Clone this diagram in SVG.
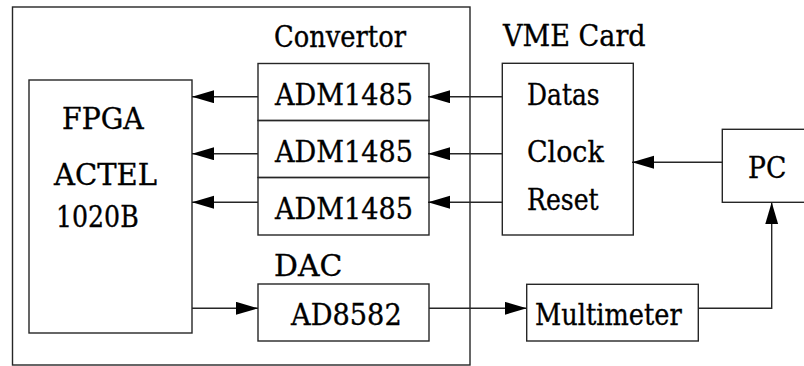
<svg xmlns="http://www.w3.org/2000/svg" width="804" height="366" viewBox="0 0 804 366">
<defs>
<style>
.box{fill:none;stroke:#262626;stroke-width:1.4}
.ln{fill:none;stroke:#262626;stroke-width:1.4}
text{font-family:"DejaVu Serif",serif;font-size:29px;fill:#000;stroke:#000;stroke-width:0.35}
</style>
<marker id="ah" markerUnits="userSpaceOnUse" markerWidth="24" markerHeight="14" refX="22" refY="6.5" orient="auto">
<path d="M0,0 L22,6.5 L0,13 Z" fill="#000"/>
</marker>
</defs>
<rect width="804" height="366" fill="#fff"/>
<g id="outer"><rect class="box" x="12.5" y="7" width="457.5" height="358"/></g>
<g id="fpga">
<rect class="box" x="29" y="80" width="163" height="253"/>
<text x="62" y="129" textLength="81.7" lengthAdjust="spacingAndGlyphs">FPGA</text>
<text x="54" y="185" textLength="103" lengthAdjust="spacingAndGlyphs">ACTEL</text>
<text x="56" y="227" textLength="82.7" lengthAdjust="spacingAndGlyphs">1020B</text>
</g>
<g id="convertor">
<text x="274" y="47" textLength="132" lengthAdjust="spacingAndGlyphs">Convertor</text>
<rect class="box" x="258" y="63.5" width="171" height="57"/>
<text x="275" y="105" textLength="138" lengthAdjust="spacingAndGlyphs">ADM1485</text>
<rect class="box" x="258" y="120.5" width="171" height="57"/>
<text x="275" y="162" textLength="138" lengthAdjust="spacingAndGlyphs">ADM1485</text>
<rect class="box" x="258" y="177.5" width="171" height="57.5"/>
<text x="275" y="218.5" textLength="138" lengthAdjust="spacingAndGlyphs">ADM1485</text>
</g>
<g id="dac">
<text x="274" y="276" textLength="68.3" lengthAdjust="spacingAndGlyphs">DAC</text>
<rect class="box" x="258" y="284" width="171" height="57"/>
<text x="291" y="324.5" textLength="110.7" lengthAdjust="spacingAndGlyphs">AD8582</text>
</g>
<g id="vme">
<text x="503" y="46" textLength="142.7" lengthAdjust="spacingAndGlyphs">VME Card</text>
<rect class="box" x="502.3" y="63.3" width="131" height="171.7"/>
<text x="527" y="104.5" textLength="72.7" lengthAdjust="spacingAndGlyphs">Datas</text>
<text x="527" y="162" textLength="76.7" lengthAdjust="spacingAndGlyphs">Clock</text>
<text x="527" y="210" textLength="71.7" lengthAdjust="spacingAndGlyphs">Reset</text>
</g>
<g id="pc">
<rect class="box" x="722.3" y="129.3" width="90" height="73"/>
<text x="748" y="178" textLength="38.3" lengthAdjust="spacingAndGlyphs">PC</text>
</g>
<g id="multimeter">
<rect class="box" x="526.7" y="284.3" width="171.6" height="56.7"/>
<text x="535" y="324.5" textLength="146.7" lengthAdjust="spacingAndGlyphs">Multimeter</text>
</g>
<g id="connectors">
<line class="ln" x1="258" y1="96.7" x2="192" y2="96.7" marker-end="url(#ah)"/>
<line class="ln" x1="258" y1="153.7" x2="192" y2="153.7" marker-end="url(#ah)"/>
<line class="ln" x1="258" y1="202.3" x2="192" y2="202.3" marker-end="url(#ah)"/>
<line class="ln" x1="502.3" y1="96.7" x2="428" y2="96.7" marker-end="url(#ah)"/>
<line class="ln" x1="502.3" y1="153.7" x2="428" y2="153.7" marker-end="url(#ah)"/>
<line class="ln" x1="502.3" y1="202.3" x2="428" y2="202.3" marker-end="url(#ah)"/>
<line class="ln" x1="722.3" y1="162.3" x2="632" y2="162.3" marker-end="url(#ah)"/>
<line class="ln" x1="192" y1="308.3" x2="258" y2="308.3" marker-end="url(#ah)"/>
<line class="ln" x1="429" y1="308.3" x2="526.7" y2="308.3" marker-end="url(#ah)"/>
<polyline class="ln" points="698.3,308.3 771.7,308.3 771.7,202.3" marker-end="url(#ah)"/>
</g>
</svg>
